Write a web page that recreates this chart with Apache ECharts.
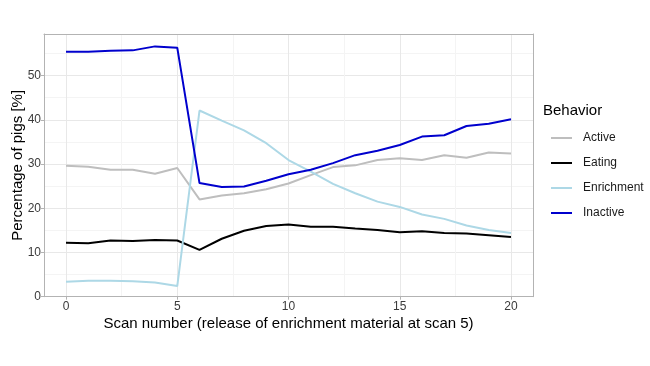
<!DOCTYPE html>
<html><head><meta charset="utf-8">
<script src="https://cdn.jsdelivr.net/npm/echarts@6/dist/echarts.min.js"></script>
<style>html,body{margin:0;padding:0;background:#fff}#c{width:650px;height:366px}</style>
</head><body><div id="c"></div>
<script>
const scans = [0,1,2,3,4,5,6,7,8,9,10,11,12,13,14,15,16,17,18,19,20];
const active = [29.6,29.4,28.7,28.7,27.8,29.1,22.0,22.9,23.4,24.3,25.6,27.5,29.3,29.7,30.9,31.3,30.9,32.0,31.4,32.6,32.4];
const eating = [12.2,12.1,12.7,12.6,12.8,12.7,10.6,13.1,14.9,16.0,16.3,15.8,15.8,15.4,15.1,14.6,14.8,14.4,14.3,13.9,13.5];
const enrichment = [3.4,3.6,3.6,3.5,3.2,2.4,42.1,39.8,37.6,34.7,30.9,28.3,25.5,23.4,21.5,20.3,18.6,17.6,16.1,15.1,14.4];
const inactive = [55.4,55.4,55.6,55.7,56.6,56.3,25.7,24.8,24.9,26.2,27.7,28.7,30.2,32.0,33.0,34.3,36.2,36.5,38.6,39.1,40.1];
const xTicks = [0,5,10,15,20];
const yTicks = [0,10,20,30,40,50];
const seriesNames = ['Active','Eating','Enrichment','Inactive'];
const seriesColors = ['#bebebe','#000000','#add8e6','#0000cd'];
const seriesValues = [active, eating, enrichment, inactive];

const border = '#b3b3b3';
const tickText = '#3a3a3a';
const chart = echarts.init(document.getElementById('c'));
chart.setOption({
  animation: false,
  textStyle: {fontFamily: 'Liberation Sans, Arial, sans-serif'},
  title: {text: 'Behavior', left: 538, top: 98, textStyle: {fontSize: 15, fontWeight: 'normal', color: '#000'}},
  legend: {orient: 'vertical', left: 546, top: 127, itemWidth: 21, itemHeight: 2, icon: 'rect', itemGap: 13,
    textStyle: {fontSize: 12, color: '#1a1a1a', padding: [0,0,0,6]}, data: seriesNames},
  grid: [
    {left: 44, right: 117, top: 34, bottom: 69.3, outerBoundsMode: 'none', containLabel: false},
    {left: 66, right: 139, top: 34, bottom: 69.3, outerBoundsMode: 'none', containLabel: false}
  ],
  xAxis: [
    {gridIndex: 0, type: 'value', min: 0, max: 1, position: 'bottom', z: 1,
      axisLine: {show: true, onZero: false, lineStyle: {color: border}}, axisTick: {show: false}, axisLabel: {show: false}, splitLine: {show: false}},
    {gridIndex: 0, type: 'value', min: 0, max: 1, position: 'top', z: 1,
      axisLine: {show: true, onZero: false, lineStyle: {color: border}}, axisTick: {show: false}, axisLabel: {show: false}, splitLine: {show: false}},
    {gridIndex: 1, type: 'value', min: 0, max: 20, interval: 5,
      axisLine: {show: false, onZero: false}, axisTick: {show: true, length: 3, lineStyle: {color: border}},
      axisLabel: {color: tickText, fontSize: 12, margin: 4, customValues: xTicks},
      splitLine: {show: true, lineStyle: {color: '#e8e8e8'}},
      minorTick: {show: false, splitNumber: 2}, minorSplitLine: {show: true, lineStyle: {color: '#f4f4f4'}},
      name: 'Scan number (release of enrichment material at scan 5)', nameLocation: 'middle', nameGap: 20,
      nameMoveOverlap: false,
      nameTextStyle: {fontSize: 15, color: '#000'}}
  ],
  yAxis: [
    {gridIndex: 0, type: 'value', min: 0, max: 59.4, interval: 10,
      axisLine: {show: true, onZero: false, lineStyle: {color: border}},
      axisTick: {show: true, length: 3, lineStyle: {color: border}, customValues: yTicks},
      axisLabel: {color: tickText, fontSize: 12, margin: 3, customValues: yTicks},
      splitLine: {show: true, lineStyle: {color: '#e8e8e8'}},
      minorTick: {show: false, splitNumber: 2}, minorSplitLine: {show: true, lineStyle: {color: '#f4f4f4'}},
      name: 'Percentage of pigs [%]', nameLocation: 'middle', nameGap: 19, nameMoveOverlap: false,
      nameTextStyle: {fontSize: 15, color: '#000'}},
    {gridIndex: 0, type: 'value', min: 0, max: 59.4, position: 'right', z: 1,
      axisLine: {show: true, onZero: false, lineStyle: {color: border}}, axisTick: {show: false}, axisLabel: {show: false}, splitLine: {show: false}},
    {gridIndex: 1, type: 'value', min: 0, max: 59.4, show: false}
  ],
  series: seriesNames.map((n, k) => ({
    name: n, type: 'line', xAxisIndex: 2, yAxisIndex: 2, symbol: 'none',
    color: seriesColors[k], lineStyle: {width: 2, color: seriesColors[k]},
    data: scans.map((x, i) => [x, seriesValues[k][i]])
  }))
});
</script></body></html>
